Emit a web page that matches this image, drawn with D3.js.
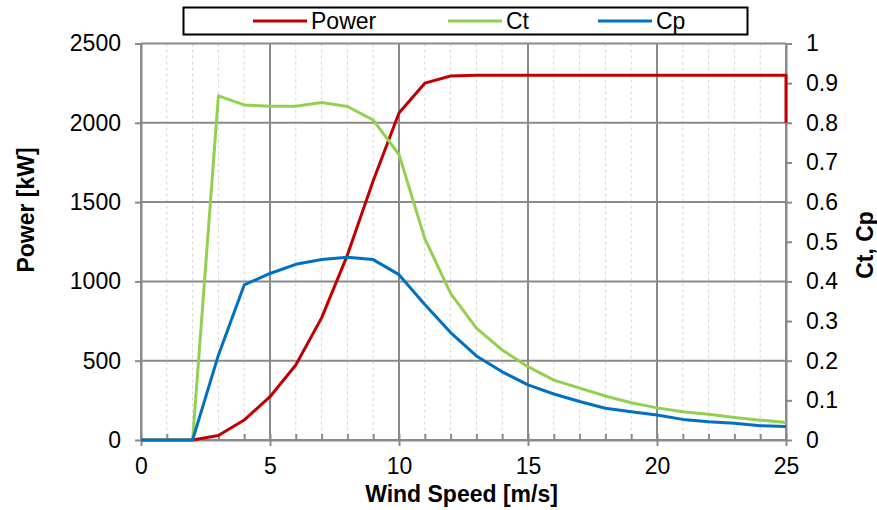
<!DOCTYPE html>
<html>
<head>
<meta charset="utf-8">
<script src="https://cdn.jsdelivr.net/npm/d3@7"></script>
<style>
  body { margin: 0; background: #fff; }
  text { font-family: "Liberation Sans", Arial, sans-serif; fill: #000; }
</style>
</head>
<body>
<div id="vis"></div>
<script>
// frame constants
const FRAME_WIDTH = 877;
const FRAME_HEIGHT = 510;
const MARGINS = {left: 141, right: 91, top: 43.5, bottom: 70};
const VIS_WIDTH = FRAME_WIDTH - MARGINS.left - MARGINS.right;
const VIS_HEIGHT = FRAME_HEIGHT - MARGINS.top - MARGINS.bottom;

// data
const windSpeed = [0, 1, 2, 3, 4, 5, 6, 7, 8, 9, 10, 11, 12, 13, 14, 15, 16, 17, 18, 19, 20, 21, 22, 23, 24, 25];
const powerWind = [0, 1, 2, 3, 4, 5, 6, 7, 8, 9, 10, 11, 12, 13, 14, 15, 16, 17, 18, 19, 20, 21, 22, 23, 24, 25, 25];
const powerKW = [0, 0, 0, 28, 126, 273, 473, 770, 1166, 1635, 2062, 2250, 2295, 2300, 2300, 2300, 2300, 2300, 2300, 2300, 2300, 2300, 2300, 2300, 2300, 2300, 2000];
const ctValues = [0, 0, 0, 0.868, 0.845, 0.842, 0.842, 0.851, 0.841, 0.807, 0.72, 0.508, 0.37, 0.282, 0.227, 0.185, 0.151, 0.131, 0.111, 0.094, 0.081, 0.071, 0.065, 0.057, 0.05, 0.044];
const cpValues = [0, 0, 0, 0.214, 0.391, 0.42, 0.443, 0.455, 0.461, 0.455, 0.417, 0.342, 0.271, 0.212, 0.172, 0.139, 0.116, 0.097, 0.08, 0.071, 0.063, 0.052, 0.046, 0.042, 0.036, 0.034];

const xTicks = [0, 5, 10, 15, 20, 25];
const xMinorTicks = d3.range(0, 26, 1);
const powerTicks = [0, 500, 1000, 1500, 2000, 2500];
const coefTicks = [0, 0.1, 0.2, 0.3, 0.4, 0.5, 0.6, 0.7, 0.8, 0.9, 1];

const seriesNames = ["Power", "Ct", "Cp"];
const seriesColors = ["#c00000", "#92d050", "#0070c0"];

const GRID = "#8a8a8a";
const FONT = 23;

const svg = d3.select("#vis")
  .append("svg")
    .attr("width", FRAME_WIDTH)
    .attr("height", FRAME_HEIGHT);

// scales
const X_SCALE = d3.scaleLinear().domain([0, 25]).range([0, VIS_WIDTH]);
const Y_POWER = d3.scaleLinear().domain([0, 2500]).range([VIS_HEIGHT, 0]);
const Y_COEF = d3.scaleLinear().domain([0, 1]).range([VIS_HEIGHT, 0]);

const plot = svg.append("g")
  .attr("transform", "translate(" + MARGINS.left + "," + MARGINS.top + ")");

// minor dashed verticals at every 1 m/s
plot.append("g")
  .selectAll("line")
  .data(xMinorTicks.filter(d => d % 5 !== 0))
  .enter()
  .append("line")
    .attr("x1", d => X_SCALE(d)).attr("x2", d => X_SCALE(d))
    .attr("y1", 0).attr("y2", VIS_HEIGHT)
    .attr("stroke", "#d4d4d4")
    .attr("stroke-width", 1)
    .attr("stroke-dasharray", "3,3");

// major grid
plot.append("g")
  .selectAll("line")
  .data(xTicks)
  .enter()
  .append("line")
    .attr("x1", d => X_SCALE(d)).attr("x2", d => X_SCALE(d))
    .attr("y1", 0).attr("y2", VIS_HEIGHT)
    .attr("stroke", GRID)
    .attr("stroke-width", 2);

plot.append("g")
  .selectAll("line")
  .data(powerTicks)
  .enter()
  .append("line")
    .attr("x1", 0).attr("x2", VIS_WIDTH)
    .attr("y1", d => Y_POWER(d)).attr("y2", d => Y_POWER(d))
    .attr("stroke", GRID)
    .attr("stroke-width", 2);

// axes
function styleAxis(g) {
  g.select(".domain").attr("stroke", GRID).attr("stroke-width", 2);
  g.selectAll(".tick line").attr("stroke", GRID).attr("stroke-width", 2);
  g.selectAll(".tick text")
    .attr("font-size", FONT)
    .attr("font-family", "Liberation Sans, Arial, sans-serif")
    .attr("fill", "#000");
}

// bottom minor ticks pointing inward
plot.append("g")
  .attr("transform", "translate(0," + VIS_HEIGHT + ")")
  .call(d3.axisBottom(X_SCALE).tickValues(xMinorTicks).tickSize(-6).tickFormat(""))
  .call(g => { styleAxis(g); g.select(".domain").remove(); });

plot.append("g")
  .attr("transform", "translate(0," + VIS_HEIGHT + ")")
  .call(d3.axisBottom(X_SCALE).tickValues(xTicks).tickSize(6).tickSizeOuter(0).tickPadding(12).tickFormat(d3.format("d")))
  .call(styleAxis);

plot.append("g")
  .call(d3.axisLeft(Y_POWER).tickValues(powerTicks).tickSize(6).tickSizeOuter(0).tickPadding(14).tickFormat(d3.format("d")))
  .call(styleAxis);

plot.append("g")
  .attr("transform", "translate(" + VIS_WIDTH + ",0)")
  .call(d3.axisRight(Y_COEF).tickValues(coefTicks).tickSize(6).tickSizeOuter(0).tickPadding(14).tickFormat(d => d === 0 || d === 1 ? d3.format("d")(d) : d3.format(".1f")(d)))
  .call(styleAxis);

// lines
const powerLine = d3.line()
  .x((d, i) => X_SCALE(powerWind[i]))
  .y(d => Y_POWER(d));

const coefLine = d3.line()
  .x((d, i) => X_SCALE(windSpeed[i]))
  .y(d => Y_COEF(d));

plot.append("path")
  .datum(powerKW)
  .attr("d", powerLine)
  .attr("fill", "none")
  .attr("stroke", seriesColors[0])
  .attr("stroke-width", 3)
  .attr("stroke-linejoin", "round");

plot.append("path")
  .datum(ctValues)
  .attr("d", coefLine)
  .attr("fill", "none")
  .attr("stroke", seriesColors[1])
  .attr("stroke-width", 3)
  .attr("stroke-linejoin", "round");

plot.append("path")
  .datum(cpValues)
  .attr("d", coefLine)
  .attr("fill", "none")
  .attr("stroke", seriesColors[2])
  .attr("stroke-width", 3)
  .attr("stroke-linejoin", "round");

// axis titles
svg.append("text")
  .attr("transform", "translate(" + (MARGINS.left + VIS_WIDTH / 2 - 2) + ",502)")
  .attr("text-anchor", "middle")
  .attr("font-size", FONT)
  .attr("font-weight", "bold")
  .text("Wind Speed [m/s]");

svg.append("text")
  .attr("transform", "translate(34,210) rotate(-90)")
  .attr("text-anchor", "middle")
  .attr("font-size", FONT)
  .attr("font-weight", "bold")
  .text("Power [kW]");

svg.append("text")
  .attr("transform", "translate(873,245) rotate(-90)")
  .attr("text-anchor", "middle")
  .attr("font-size", FONT)
  .attr("font-weight", "bold")
  .text("Ct, Cp");

// legend
const legend = svg.append("g");
legend.append("rect")
  .attr("x", 183.5).attr("y", 7.5)
  .attr("width", 564).attr("height", 27)
  .attr("fill", "#fff")
  .attr("stroke", "#000")
  .attr("stroke-width", 2);

const legendX = [253, 448, 598];
const legendItems = legend.selectAll(".item")
  .data(seriesNames)
  .enter()
  .append("g")
    .attr("transform", (d, i) => "translate(" + legendX[i] + ",21)");

legendItems.append("line")
  .attr("x1", 0).attr("x2", 54)
  .attr("stroke", (d, i) => seriesColors[i])
  .attr("stroke-width", 3);

legendItems.append("text")
  .attr("x", 58)
  .attr("y", 8)
  .attr("font-size", FONT)
  .text(d => d);
</script>
</body>
</html>
